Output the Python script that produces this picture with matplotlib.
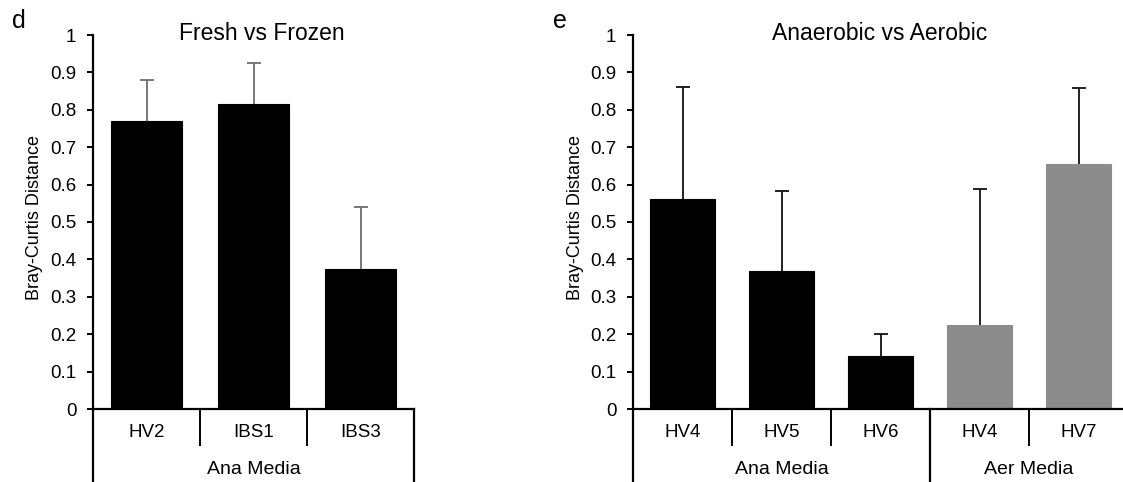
import matplotlib
matplotlib.use("Agg")
import matplotlib.pyplot as plt
from matplotlib.transforms import blended_transform_factory

plt.rcParams['font.family'] = ['Liberation Sans', 'DejaVu Sans']

# ---- data ----
d_categories = ['HV2', 'IBS1', 'IBS3']
d_values = [0.769, 0.815, 0.373]
d_errors = [0.112, 0.110, 0.167]
d_groups = ['Ana Media']
d_group_sizes = [3]

e_categories = ['HV4', 'HV5', 'HV6', 'HV4', 'HV7']
e_values = [0.561, 0.369, 0.143, 0.224, 0.654]
e_errors = [0.301, 0.215, 0.057, 0.363, 0.203]
e_groups = ['Ana Media', 'Aer Media']
e_group_sizes = [3, 2]

yticks = [0, 0.1, 0.2, 0.3, 0.4, 0.5, 0.6, 0.7, 0.8, 0.9, 1]
ytick_labels = ['0', '0.1', '0.2', '0.3', '0.4', '0.5', '0.6', '0.7', '0.8', '0.9', '1']

W, H = 1123, 482
fig = plt.figure(figsize=(W / 100, H / 100), dpi=100)


def px_axes(x0, x1, ytop, ybot):
    return fig.add_axes([x0 / W, 1 - ybot / H, (x1 - x0) / W, (ybot - ytop) / H])


def draw(ax, cats, vals, errs, groups, sizes, colors, ecolor):
    n = len(cats)
    x = list(range(n))
    ax.bar(x, vals, width=0.66, color=colors, edgecolor=colors, linewidth=0.8, zorder=2)
    eb = ax.errorbar(x, vals, yerr=[[0] * n, errs], fmt='none', ecolor=ecolor,
                     elinewidth=1.3, capsize=5, capthick=1.3, zorder=1)
    caps = eb[1]
    if len(caps) == 2:
        caps[0].set_visible(False)
    ax.set_xlim(-0.5, n - 0.5)
    ax.set_ylim(0, 1)
    for s in ['top', 'right']:
        ax.spines[s].set_visible(False)
    ax.spines['left'].set_linewidth(1.6)
    ax.spines['bottom'].set_linewidth(1.6)
    ax.set_xticks([])
    ax.set_yticks(yticks)
    ax.set_yticklabels(ytick_labels)
    ax.tick_params(axis='y', direction='out', length=4, width=1.4, labelsize=13.5, pad=8, colors='black')

    trans = blended_transform_factory(ax.transData, ax.transAxes)
    start = 0
    bounds = [-0.5]
    for sz in sizes:
        bounds.append(start + sz - 0.5)
        start += sz
    for b in range(1, n):
        bx = b - 0.5
        if bx in bounds:
            continue
        ax.plot([bx, bx], [0, -0.096], transform=trans, clip_on=False, color='black', lw=1.4)
    for bx in bounds:
        ax.plot([bx, bx], [0, -0.25], transform=trans, clip_on=False, color='black', lw=1.6)
    for i, c in enumerate(cats):
        ax.text(i, -0.064, c, transform=trans, ha='center', va='center', fontsize=13.5)
    start = 0
    for g, sz in zip(groups, sizes):
        mid = start + (sz - 1) / 2
        ax.text(mid, -0.163, g, transform=trans, ha='center', va='center', fontsize=14)
        start += sz


ax1 = px_axes(93, 414, 35, 409)
draw(ax1, d_categories, d_values, d_errors, d_groups, d_group_sizes,
     ['black'] * 3, '#6e6e6e')

ax2 = px_axes(633, 1128, 35, 409)
draw(ax2, e_categories, e_values, e_errors, e_groups, e_group_sizes,
     ['black', 'black', 'black', '#8c8c8c', '#8c8c8c'], '#111111')

fig.text(35 / W, 1 - 217 / H, 'Bray-Curtis Distance', rotation=90, ha='center', va='center', fontsize=13)
fig.text(575 / W, 1 - 217 / H, 'Bray-Curtis Distance', rotation=90, ha='center', va='center', fontsize=13)
fig.text(262 / W, 1 - 33 / H, 'Fresh vs Frozen', ha='center', va='center', fontsize=16.5)
fig.text(880 / W, 1 - 33 / H, 'Anaerobic vs Aerobic', ha='center', va='center', fontsize=16.5)
fig.text(19 / W, 1 - 21 / H, 'd', ha='center', va='center', fontsize=18)
fig.text(560 / W, 1 - 21 / H, 'e', ha='center', va='center', fontsize=18)

fig.savefig('out.png', dpi=100)
